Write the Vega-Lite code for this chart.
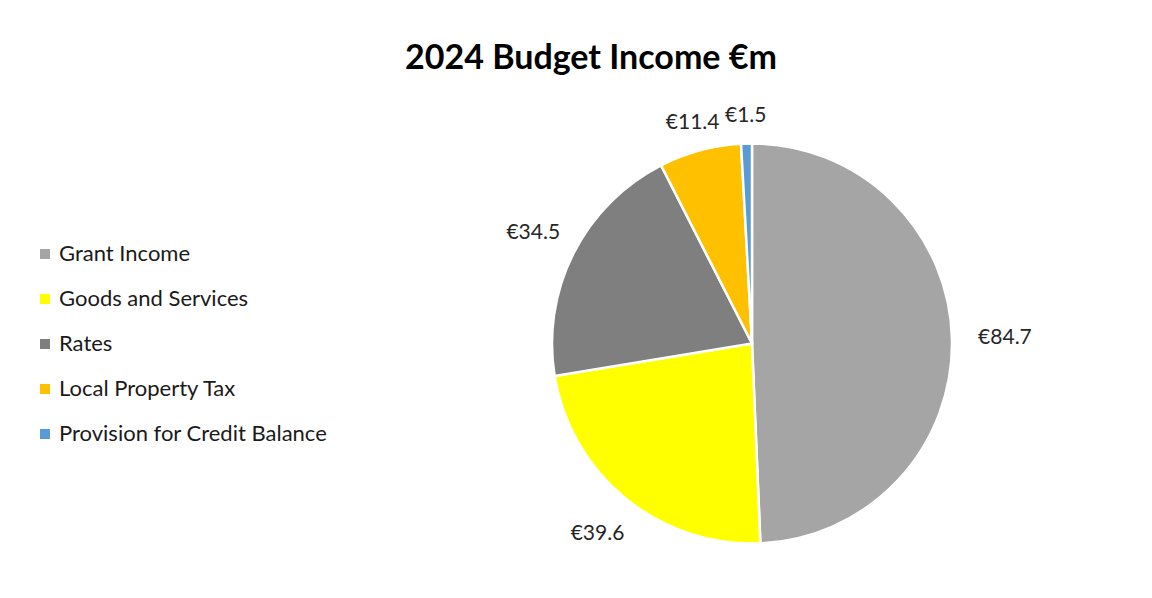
{
  "$schema": "https://vega.github.io/schema/vega-lite/v6.json",
  "autosize": "none",
  "width": 400,
  "height": 401,
  "padding": {"left": 552, "top": 143, "right": 200, "bottom": 54},
  "background": "white",
  "config": {
    "locale": {"number": {"decimal": ".", "thousands": ",", "grouping": [3], "currency": ["€", ""]}}
  },
  "title": {
    "text": "2024 Budget Income €m",
    "font": "Lato",
    "fontSize": 34,
    "fontWeight": "bold",
    "color": "#000000",
    "anchor": "middle",
    "dx": -161,
    "dy": 0
  },
  "data": {
    "values": [
      {"i": 1, "category": "Grant Income", "value": 84.7},
      {"i": 2, "category": "Goods and Services", "value": 39.6},
      {"i": 3, "category": "Rates", "value": 34.5},
      {"i": 4, "category": "Local Property Tax", "value": 11.4},
      {"i": 5, "category": "Provision for Credit Balance", "value": 1.5}
    ]
  },
  "encoding": {
    "theta": {"field": "value", "type": "quantitative", "stack": true},
    "order": {"field": "i", "type": "quantitative"}
  },
  "layer": [
    {
      "mark": {"type": "arc", "outerRadius": 200, "stroke": "white", "strokeWidth": 2.5},
      "encoding": {
        "color": {
          "field": "category",
          "type": "nominal",
          "sort": null,
          "scale": {
            "domain": ["Grant Income", "Goods and Services", "Rates", "Local Property Tax", "Provision for Credit Balance"],
            "range": ["#a5a5a5", "#ffff00", "#7f7f7f", "#ffc000", "#5b9bd5"]
          },
          "legend": {
            "title": null,
            "orient": "none",
            "legendX": -518,
            "legendY": 100,
            "symbolType": "square",
            "symbolSize": 100,
            "symbolStrokeWidth": 0,
            "labelFont": "Lato",
            "labelFontSize": 22,
            "labelColor": "#1a1a1a",
            "labelLimit": 500,
            "rowPadding": 23,
            "labelOffset": 3
          }
        }
      }
    },
    {
      "mark": {"type": "text", "radius": 253, "font": "Lato", "fontSize": 21, "color": "#262626"},
      "encoding": {
        "text": {"condition": {"test": "datum.i == 1", "field": "value", "type": "quantitative", "format": "$.1f"}, "value": ""}
      }
    },
    {
      "mark": {"type": "text", "radius": 245, "font": "Lato", "fontSize": 21, "color": "#262626"},
      "encoding": {
        "text": {"condition": {"test": "datum.i == 2 || datum.i == 3", "field": "value", "type": "quantitative", "format": "$.1f"}, "value": ""}
      }
    },
    {
      "mark": {"type": "text", "radius": 228, "font": "Lato", "fontSize": 21, "color": "#262626"},
      "encoding": {
        "text": {"condition": {"test": "datum.i >= 4", "field": "value", "type": "quantitative", "format": "$.1f"}, "value": ""}
      }
    }
  ]
}
